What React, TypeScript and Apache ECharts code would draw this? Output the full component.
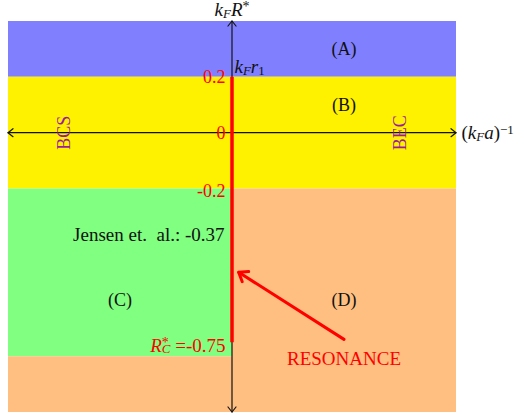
import { useEffect, useRef } from 'react';
import * as echarts from 'echarts';

const SERIF = 'Liberation Serif';
const FS = 18;
const MATH_FS = 19;

// Axis ranges: (k_F a)^-1 horizontally, k_F R* vertically
const xRange = [-1, 1];
const yRange = [-1, 0.4];

// Filled phase regions, each as an x-extent and a y-extent
const regionNames = ['A', 'B', 'C', 'D', 'D lower'];
const regionX: [number, number][] = [[-1, 1], [-1, 1], [-1, 0], [0, 1], [-1, 0]];
const regionY: [number, number][] = [[0.2, 0.4], [-0.2, 0.2], [-0.8, -0.2], [-1, -0.2], [-1, -0.8]];
const regionColors = ['#8080ff', '#fff200', '#80ff80', '#ffbf80', '#ffbf80'];

// Region captions and where they sit
const captionTexts = ['(A)', '(B)', '(C)', '(D)'];
const captionX = [0.5, 0.5, -0.5, 0.5];
const captionY = [0.3, 0.1, -0.6, -0.6];

// Tick marks on the k_F R* axis
const tickValues = [0.2, 0, -0.2];
const tickLabels = ['0.2', '0', '-0.2'];

// Resonance segment of k_F R* and the reference values on it
const resonanceTop = 0.2;
const criticalValue = -0.75;
const jensenValue = -0.37;

// Side labels on the horizontal axis
const sideNames = ['BCS', 'BEC'];
const sideX = [-0.75, 0.75];

// RESONANCE caption and its pointer (from -> to)
const resonanceCaption = [0.5, -0.81];
const resonancePointer = [0.5, -0.74, 0.03, -0.5];

const RED = '#ff0000';
const PURPLE = '#9c1c9c';
const INK = '#111111';

const tok = (extra: any) => ({ fontFamily: SERIF, align: 'left', ...extra });
const mathRich = {
  n: tok({ fontSize: MATH_FS, lineHeight: 20 }),
  i: tok({ fontSize: MATH_FS, fontStyle: 'italic', lineHeight: 20 }),
  sub: tok({ fontSize: 13, fontStyle: 'italic', lineHeight: 8, verticalAlign: 'bottom' }),
  subn: tok({ fontSize: 13, lineHeight: 8, verticalAlign: 'bottom' }),
  sup: tok({ fontSize: 13, lineHeight: 10, verticalAlign: 'top' }),
  star: tok({ fontSize: 14, lineHeight: 14, verticalAlign: 'top' }),
  // zero-advance star so the following subscript stacks beneath it
  starz: tok({ fontSize: 14, lineHeight: 14, verticalAlign: 'top', width: 0.01 }),
  txt: tok({ fontSize: 19, lineHeight: 20 }),
};

function chevron(tip: number[], from: number[], len: number, half: number) {
  const dx = tip[0] - from[0];
  const dy = tip[1] - from[1];
  const l = Math.hypot(dx, dy) || 1;
  const ux = dx / l;
  const uy = dy / l;
  const bx = tip[0] - ux * len;
  const by = tip[1] - uy * len;
  return [
    [bx - uy * half, by + ux * half],
    [tip[0], tip[1]],
    [bx + uy * half, by - ux * half],
  ];
}

function arrowRenderer(color: string, width: number, len: number, half: number) {
  return (params: any, api: any) => {
    const a = api.coord([api.value(0), api.value(1)]);
    const b = api.coord([api.value(2), api.value(3)]);
    const both = api.value(4) === 1;
    const style = { stroke: color, lineWidth: width, fill: 'none', lineCap: 'round', lineJoin: 'round' };
    const children: any[] = [
      { type: 'line', shape: { x1: a[0], y1: a[1], x2: b[0], y2: b[1] }, style },
      { type: 'polyline', shape: { points: chevron(b, a, len, half) }, style },
    ];
    if (both) children.push({ type: 'polyline', shape: { points: chevron(a, b, len, half) }, style });
    return { type: 'group', children };
  };
}

function textItem(x: number, y: number, label: any) {
  return {
    value: [x, y],
    label: { show: true, fontFamily: SERIF, fontSize: FS, color: INK, opacity: 1, textBorderWidth: 0, ...label },
  };
}

function buildOption() {
  const labels: any[] = [];
  tickValues.forEach((v, i) =>
    labels.push(
      textItem(0, v, { position: 'left', distance: 6, offset: [0, i === 2 ? 2 : 0], formatter: tickLabels[i], color: RED })
    )
  );
  captionTexts.forEach((t, i) => labels.push(textItem(captionX[i], captionY[i], { position: 'inside', formatter: t })));
  sideNames.forEach((t, i) =>
    labels.push(textItem(sideX[i], 0, { position: 'inside', rotate: 90, formatter: t, color: PURPLE }))
  );
  labels.push(
    textItem(0, jensenValue, {
      position: 'left',
      distance: 7,
      offset: [0, -2],
      formatter: `{txt|Jensen et.\u00a0 al.: ${jensenValue}}`,
      rich: mathRich,
    })
  );
  labels.push(
    textItem(0, criticalValue, {
      position: 'left',
      distance: 6,
      offset: [0, 3],
      color: RED,
      formatter: `{i|R}{starz|*}{sub|C}{n| =${criticalValue}}`,
      rich: mathRich,
    })
  );
  labels.push(
    textItem(resonanceCaption[0], resonanceCaption[1], {
      position: 'inside',
      formatter: '{txt|RESONANCE}',
      rich: mathRich,
      color: RED,
    })
  );
  labels.push(
    textItem(0, resonanceTop, {
      position: 'right',
      distance: 2,
      offset: [0, -10],
      formatter: '{i|k}{sub|F}{i|r}{subn|1}',
      rich: mathRich,
    })
  );
  labels.push(
    textItem(0, yRange[1], {
      position: 'top',
      distance: 1,
      formatter: '{i|k}{sub|F}{i|R}{star|*}',
      rich: mathRich,
    })
  );
  labels.push(
    textItem(xRange[1], 0, {
      position: 'right',
      distance: 5,
      formatter: '{n|(}{i|k}{sub|F}{i|a}{n|)}{sup|−1}',
      rich: mathRich,
    })
  );

  return {
    animation: false,
    backgroundColor: '#ffffff',
    grid: { left: 8, right: 68, top: 21, bottom: 3 },
    xAxis: { type: 'value', min: xRange[0], max: xRange[1], show: false },
    yAxis: { type: 'value', min: yRange[0], max: yRange[1], show: false },
    series: [
      {
        type: 'custom',
        name: 'regions',
        z: 1,
        silent: true,
        data: regionNames.map((_, i) => [regionX[i][0], regionX[i][1], regionY[i][0], regionY[i][1]]),
        renderItem: (params: any, api: any) => {
          const tl = api.coord([api.value(0), api.value(3)]);
          const br = api.coord([api.value(1), api.value(2)]);
          return {
            type: 'rect',
            shape: { x: tl[0], y: tl[1], width: br[0] - tl[0], height: br[1] - tl[1] },
            style: { fill: regionColors[params.dataIndex] },
          };
        },
      },
      {
        type: 'custom',
        name: 'axes',
        z: 3,
        silent: true,
        data: [
          [xRange[0], 0, xRange[1], 0, 1],
          [0, yRange[1], 0, yRange[0], 1],
        ],
        renderItem: arrowRenderer(INK, 1.2, 5, 4),
      },
      {
        type: 'line',
        name: 'resonance',
        z: 4,
        silent: true,
        symbol: 'none',
        lineStyle: { color: RED, width: 3.5 },
        data: [
          [0, resonanceTop],
          [0, criticalValue],
        ],
      },
      {
        type: 'custom',
        name: 'pointer',
        z: 4,
        silent: true,
        data: [[...resonancePointer, 0]],
        renderItem: arrowRenderer(RED, 3, 8, 6),
      },
      {
        type: 'scatter',
        name: 'labels',
        z: 5,
        silent: true,
        symbolSize: 1,
        itemStyle: { color: 'rgba(0,0,0,0)', opacity: 1 },
        data: labels,
      },
    ],
  };
}

export default function App() {
  const ref = useRef<HTMLDivElement>(null);
  useEffect(() => {
    const chart = echarts.init(ref.current!, null, { renderer: 'svg' });
    chart.setOption(buildOption() as any);
    return () => chart.dispose();
  }, []);
  return <div ref={ref} style={{ position: 'fixed', left: 0, top: 0, width: 524, height: 415 }} />;
}
